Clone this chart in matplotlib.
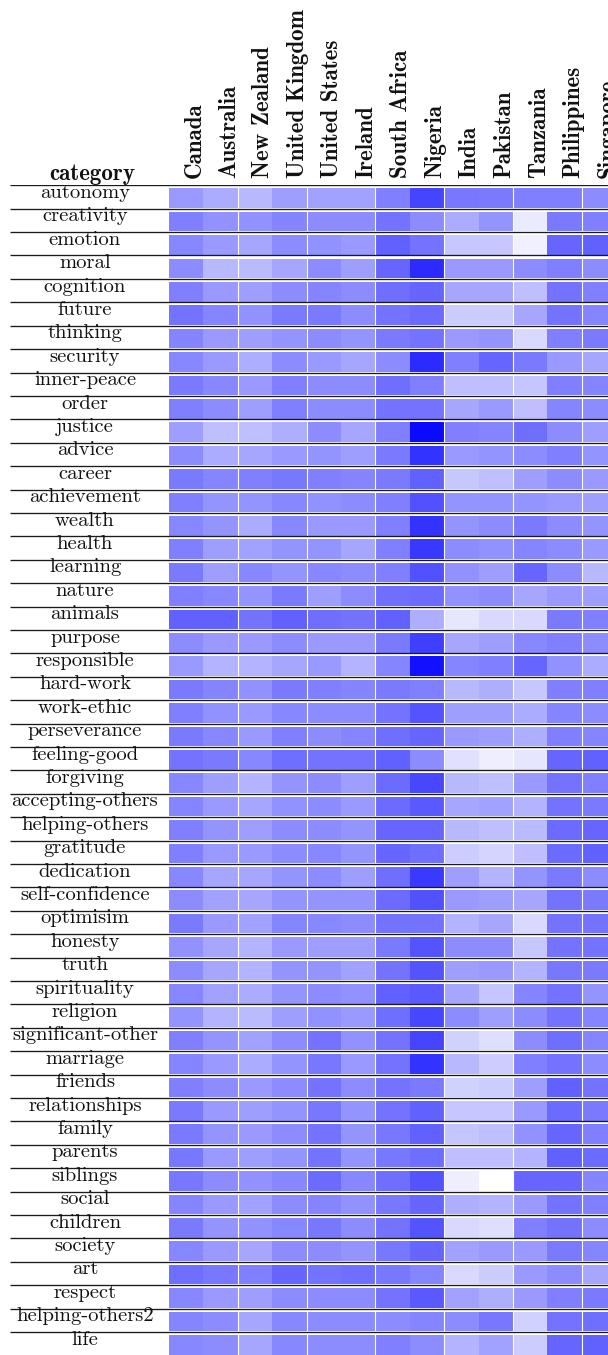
import numpy as np
import matplotlib
matplotlib.use("Agg")
import matplotlib.pyplot as plt
from matplotlib.colors import LinearSegmentedColormap

categories = ["autonomy", "creativity", "emotion", "moral", "cognition", "future",
              "thinking", "security", "inner-peace", "order", "justice", "advice",
              "career", "achievement", "wealth", "health", "learning", "nature",
              "animals", "purpose", "responsible", "hard-work", "work-ethic",
              "perseverance", "feeling-good", "forgiving", "accepting-others",
              "helping-others", "gratitude", "dedication", "self-confidence",
              "optimisim", "honesty", "truth", "spirituality", "religion",
              "significant-other", "marriage", "friends", "relationships", "family",
              "parents", "siblings", "social", "children", "society", "art",
              "respect", "helping-others2", "life"]

countries = ["Canada", "Australia", "New Zealand", "United Kingdom", "United States",
             "Ireland", "South Africa", "Nigeria", "India", "Pakistan", "Tanzania",
             "Philippines", "Singapore"]

# colour intensity per cell (0 = white, 1 = full blue), one row per category
scores = [
    [0.40, 0.33, 0.28, 0.38, 0.37, 0.37, 0.50, 0.73, 0.53, 0.52, 0.50, 0.50, 0.45],
    [0.50, 0.43, 0.43, 0.48, 0.45, 0.45, 0.55, 0.45, 0.33, 0.42, 0.08, 0.52, 0.50],
    [0.47, 0.40, 0.35, 0.45, 0.43, 0.40, 0.62, 0.55, 0.22, 0.22, 0.06, 0.60, 0.62],
    [0.45, 0.28, 0.27, 0.35, 0.45, 0.38, 0.60, 0.83, 0.40, 0.40, 0.45, 0.50, 0.45],
    [0.50, 0.40, 0.38, 0.45, 0.48, 0.45, 0.57, 0.60, 0.35, 0.35, 0.25, 0.55, 0.50],
    [0.55, 0.48, 0.43, 0.52, 0.52, 0.45, 0.55, 0.58, 0.20, 0.20, 0.35, 0.55, 0.48],
    [0.48, 0.40, 0.38, 0.42, 0.45, 0.42, 0.52, 0.55, 0.40, 0.42, 0.15, 0.50, 0.52],
    [0.47, 0.40, 0.32, 0.45, 0.40, 0.35, 0.45, 0.83, 0.50, 0.60, 0.52, 0.40, 0.35],
    [0.52, 0.47, 0.40, 0.50, 0.45, 0.45, 0.57, 0.50, 0.25, 0.25, 0.23, 0.50, 0.48],
    [0.50, 0.45, 0.38, 0.50, 0.45, 0.45, 0.55, 0.55, 0.35, 0.40, 0.25, 0.48, 0.45],
    [0.38, 0.25, 0.25, 0.32, 0.45, 0.35, 0.50, 0.96, 0.50, 0.48, 0.57, 0.45, 0.38],
    [0.45, 0.33, 0.35, 0.40, 0.42, 0.38, 0.52, 0.80, 0.40, 0.42, 0.45, 0.50, 0.42],
    [0.52, 0.48, 0.50, 0.53, 0.50, 0.48, 0.52, 0.62, 0.22, 0.25, 0.38, 0.45, 0.40],
    [0.50, 0.42, 0.42, 0.47, 0.43, 0.45, 0.50, 0.68, 0.42, 0.42, 0.42, 0.40, 0.38],
    [0.47, 0.42, 0.33, 0.47, 0.40, 0.40, 0.50, 0.80, 0.42, 0.45, 0.52, 0.45, 0.42],
    [0.50, 0.38, 0.37, 0.42, 0.42, 0.35, 0.50, 0.78, 0.45, 0.43, 0.48, 0.45, 0.40],
    [0.52, 0.38, 0.47, 0.42, 0.47, 0.45, 0.50, 0.68, 0.43, 0.38, 0.60, 0.45, 0.28],
    [0.50, 0.47, 0.42, 0.52, 0.38, 0.45, 0.57, 0.58, 0.43, 0.45, 0.35, 0.40, 0.38],
    [0.62, 0.62, 0.55, 0.62, 0.57, 0.55, 0.62, 0.32, 0.10, 0.15, 0.15, 0.52, 0.50],
    [0.45, 0.40, 0.40, 0.45, 0.40, 0.40, 0.52, 0.75, 0.35, 0.38, 0.47, 0.50, 0.45],
    [0.40, 0.30, 0.30, 0.35, 0.40, 0.30, 0.48, 0.93, 0.48, 0.50, 0.60, 0.43, 0.33],
    [0.52, 0.48, 0.43, 0.52, 0.50, 0.48, 0.52, 0.50, 0.28, 0.32, 0.22, 0.50, 0.50],
    [0.50, 0.43, 0.40, 0.47, 0.45, 0.45, 0.55, 0.67, 0.38, 0.38, 0.33, 0.48, 0.45],
    [0.52, 0.47, 0.40, 0.50, 0.45, 0.48, 0.57, 0.60, 0.40, 0.38, 0.32, 0.50, 0.48],
    [0.55, 0.52, 0.47, 0.57, 0.55, 0.55, 0.62, 0.45, 0.12, 0.07, 0.10, 0.60, 0.62],
    [0.47, 0.38, 0.30, 0.42, 0.45, 0.38, 0.58, 0.72, 0.28, 0.25, 0.40, 0.55, 0.50],
    [0.48, 0.40, 0.35, 0.43, 0.45, 0.40, 0.58, 0.65, 0.35, 0.37, 0.30, 0.55, 0.52],
    [0.50, 0.42, 0.38, 0.45, 0.45, 0.42, 0.60, 0.60, 0.28, 0.25, 0.27, 0.58, 0.60],
    [0.50, 0.40, 0.40, 0.45, 0.47, 0.42, 0.60, 0.57, 0.20, 0.17, 0.25, 0.58, 0.62],
    [0.47, 0.35, 0.35, 0.42, 0.45, 0.38, 0.57, 0.77, 0.38, 0.30, 0.42, 0.52, 0.45],
    [0.45, 0.37, 0.35, 0.42, 0.42, 0.42, 0.58, 0.68, 0.40, 0.38, 0.35, 0.55, 0.52],
    [0.52, 0.40, 0.37, 0.48, 0.47, 0.45, 0.55, 0.55, 0.30, 0.35, 0.15, 0.55, 0.55],
    [0.43, 0.35, 0.30, 0.40, 0.38, 0.38, 0.52, 0.67, 0.45, 0.45, 0.22, 0.55, 0.55],
    [0.45, 0.35, 0.30, 0.42, 0.42, 0.37, 0.55, 0.67, 0.38, 0.40, 0.30, 0.53, 0.52],
    [0.47, 0.37, 0.33, 0.42, 0.45, 0.43, 0.62, 0.65, 0.35, 0.23, 0.48, 0.55, 0.42],
    [0.42, 0.30, 0.27, 0.38, 0.43, 0.40, 0.57, 0.72, 0.45, 0.38, 0.45, 0.55, 0.48],
    [0.50, 0.42, 0.37, 0.45, 0.55, 0.43, 0.55, 0.73, 0.18, 0.13, 0.45, 0.57, 0.48],
    [0.48, 0.40, 0.33, 0.42, 0.53, 0.40, 0.55, 0.80, 0.28, 0.20, 0.50, 0.55, 0.45],
    [0.50, 0.45, 0.40, 0.45, 0.55, 0.45, 0.55, 0.52, 0.18, 0.20, 0.38, 0.62, 0.55],
    [0.52, 0.40, 0.38, 0.42, 0.53, 0.42, 0.55, 0.62, 0.22, 0.22, 0.40, 0.58, 0.52],
    [0.52, 0.42, 0.40, 0.45, 0.55, 0.42, 0.53, 0.62, 0.23, 0.25, 0.43, 0.60, 0.50],
    [0.53, 0.40, 0.38, 0.42, 0.55, 0.42, 0.53, 0.57, 0.25, 0.25, 0.30, 0.62, 0.58],
    [0.53, 0.45, 0.43, 0.47, 0.58, 0.47, 0.57, 0.67, 0.07, 0.00, 0.60, 0.60, 0.48],
    [0.48, 0.40, 0.37, 0.45, 0.48, 0.43, 0.53, 0.60, 0.32, 0.30, 0.40, 0.55, 0.50],
    [0.52, 0.42, 0.43, 0.47, 0.53, 0.45, 0.55, 0.67, 0.15, 0.13, 0.50, 0.55, 0.45],
    [0.47, 0.40, 0.35, 0.45, 0.45, 0.42, 0.53, 0.60, 0.37, 0.40, 0.40, 0.52, 0.48],
    [0.57, 0.53, 0.50, 0.60, 0.55, 0.57, 0.53, 0.48, 0.15, 0.20, 0.40, 0.45, 0.35],
    [0.47, 0.40, 0.38, 0.45, 0.45, 0.45, 0.55, 0.65, 0.37, 0.32, 0.40, 0.50, 0.52],
    [0.48, 0.45, 0.35, 0.47, 0.45, 0.45, 0.45, 0.48, 0.45, 0.53, 0.18, 0.55, 0.57],
    [0.47, 0.45, 0.35, 0.47, 0.45, 0.45, 0.50, 0.45, 0.30, 0.37, 0.20, 0.60, 0.62],
]

plt.rcParams['axes.formatter.use_mathtext'] = True

W, H = 608, 1355
fig = plt.figure(figsize=(W / 100, H / 100), dpi=100)

n_rows = len(categories)
n_cols = len(countries)
col_px = 34.4
row_px = 23.4
label_cols = 159 / col_px          # width of the label column in cell units

# axes spans from the left rule to past the right edge (last column is cut)
left_px, top_px = 10, 185.3
ax_w = (label_cols + n_cols) * col_px
ax_h = n_rows * row_px
ax = fig.add_axes([left_px / W, (H - top_px - ax_h) / H, ax_w / W, ax_h / H])
ax.set_xlim(-label_cols, n_cols)
ax.set_ylim(n_rows, 0)
ax.axis('off')

cmap = LinearSegmentedColormap.from_list('white_blue', ['white', 'blue'])
vals = np.array(scores)

# every row is a band of cells with a small white gap above it
rows = np.arange(n_rows)
y_edges = np.ravel(np.column_stack([rows + 0.13, rows + 0.97]))
x_edges = np.arange(n_cols + 1)
grid = np.ma.masked_all((2 * n_rows - 1, n_cols))
grid[::2] = vals
ax.pcolormesh(x_edges, y_edges, grid, cmap=cmap, vmin=0, vmax=1,
              shading='flat', antialiased=False, zorder=1)

# faint white seams between pairs of columns
ax.vlines(np.arange(2, n_cols, 2), 0, n_rows, color='white', lw=0.8, zorder=2)

# horizontal rules
ax.hlines(rows, -label_cols, n_cols, color='#1a1a1a', lw=0.95, zorder=3)

serif = 'cmr10'
bold = 'cmb10'
fs = 14.8
fs_bold = 16.6

for i, cat in enumerate(categories):
    ax.text(-label_cols + 75 / col_px, i + 0.54, cat, ha='center', va='baseline',
            family=serif, fontsize=fs, color='#111111')

ax.text(-label_cols + 82 / col_px, -0.22, 'category', ha='center', va='baseline',
        family=bold, fontsize=fs_bold, color='#111111')

for j, c in enumerate(countries):
    ax.text(j + 0.5 + 0.42, -0.31, c, rotation=90, rotation_mode='anchor',
            ha='left', va='baseline', family=bold, fontsize=fs_bold, color='#111111')

fig.savefig('out.png', dpi=100)
